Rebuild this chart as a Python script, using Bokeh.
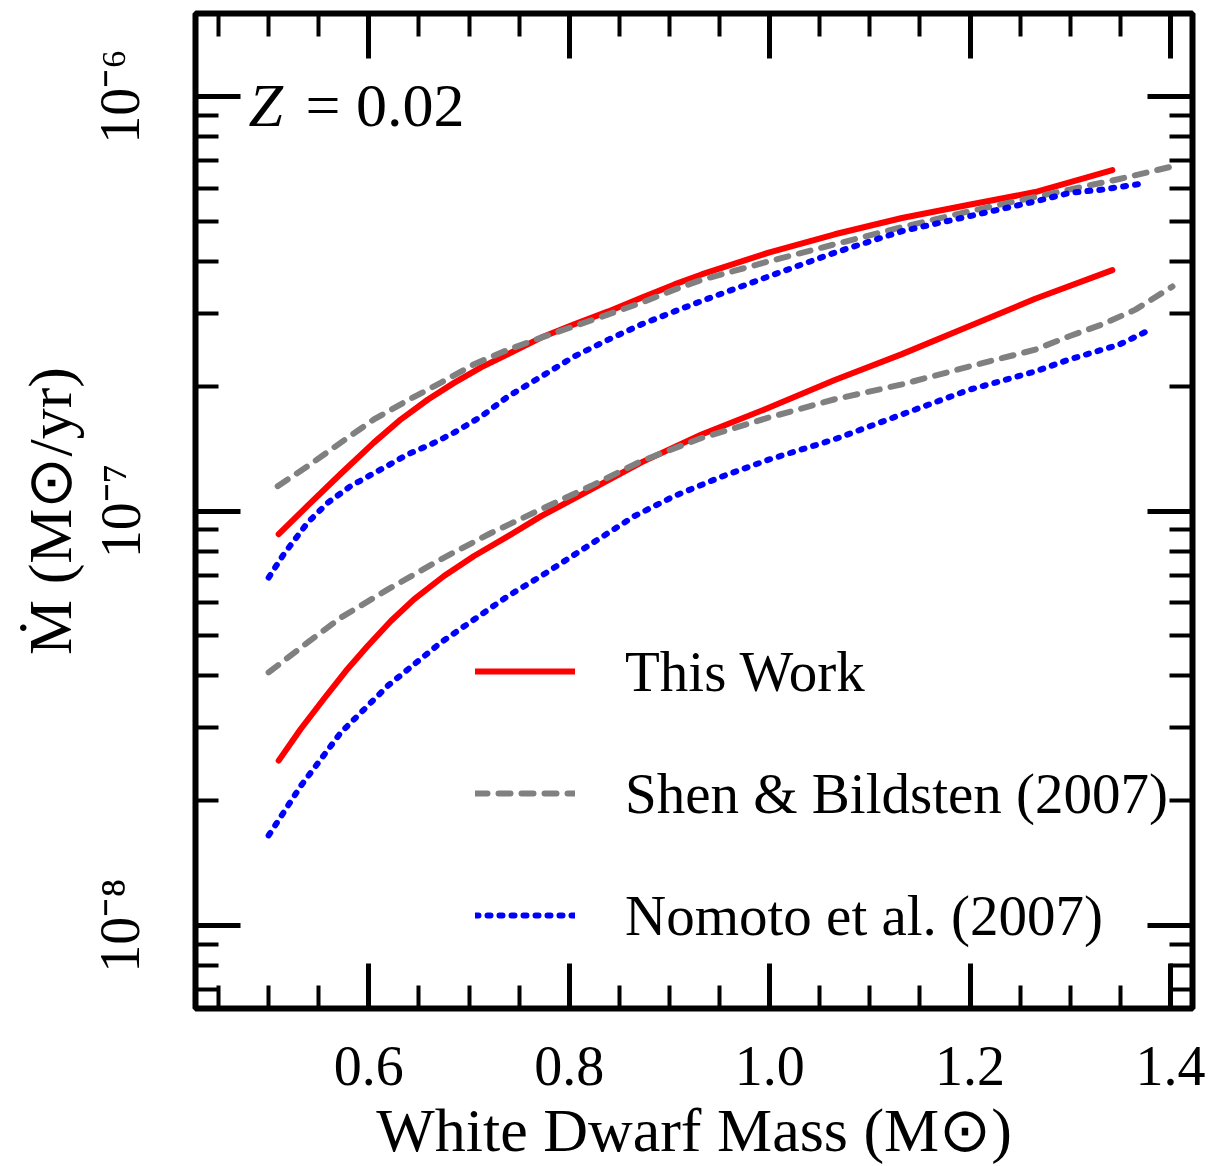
import numpy as np
from bokeh.plotting import figure
from bokeh.models import (FixedTicker, LogAxis, LinearAxis, Legend, LegendItem,
                          Label, CustomJSTickFormatter, PrintfTickFormatter, Range1d)
from bokeh.embed import file_html
from bokeh.resources import INLINE

# White dwarf mass (Msun) and accretion rate (Msun/yr) for each model.
# "This Work": upper and lower boundaries
tw_hi_m = [0.510, 0.539, 0.572, 0.605, 0.632, 0.659, 0.685, 0.712, 0.739, 0.772, 0.805,
           0.839, 0.872, 0.905, 0.932, 0.999, 1.065, 1.132, 1.199, 1.265, 1.315, 1.342]
tw_hi_mdot = [8.79e-8, 1.03e-7, 1.23e-7, 1.462e-7, 1.664e-7, 1.858e-7, 2.037e-7, 2.22e-7, 2.39e-7,
              2.62e-7, 2.82e-7, 3.03e-7, 3.27e-7, 3.52e-7, 3.72e-7, 4.20e-7, 4.65e-7, 5.09e-7,
              5.48e-7, 5.88e-7, 6.36e-7, 6.64e-7]
tw_lo_m = [0.510, 0.532, 0.555, 0.577, 0.599, 0.622, 0.645, 0.675, 0.705, 0.739, 0.772, 0.822,
           0.872, 0.932, 0.999, 1.065, 1.132, 1.199, 1.265, 1.342]
tw_lo_mdot = [2.50e-8, 2.98e-8, 3.52e-8, 4.11e-8, 4.73e-8, 5.43e-8, 6.12e-8, 6.97e-8, 7.79e-8,
              8.70e-8, 9.72e-8, 1.127e-7, 1.31e-7, 1.53e-7, 1.774e-7, 2.07e-7, 2.39e-7, 2.79e-7,
              3.25e-7, 3.81e-7]

# Shen & Bildsten (2007)
sb_hi_m = [0.509, 0.539, 0.572, 0.605, 0.639, 0.672, 0.705, 0.739, 0.772, 0.805, 0.839, 0.872,
           0.905, 0.932, 0.999, 1.065, 1.132, 1.199, 1.265, 1.299, 1.349, 1.402]
sb_hi_mdot = [1.148e-7, 1.283e-7, 1.462e-7, 1.663e-7, 1.85e-7, 2.04e-7, 2.26e-7, 2.45e-7, 2.62e-7,
              2.79e-7, 2.98e-7, 3.18e-7, 3.42e-7, 3.61e-7, 4.00e-7, 4.40e-7, 4.84e-7, 5.28e-7,
              5.72e-7, 5.96e-7, 6.32e-7, 6.78e-7]
sb_lo_m = [0.500, 0.539, 0.572, 0.619, 0.672, 0.722, 0.772, 0.822, 0.872, 0.932, 0.999, 1.065,
           1.132, 1.199, 1.265, 1.299, 1.332, 1.365, 1.402]
sb_lo_mdot = [4.08e-8, 4.82e-8, 5.53e-8, 6.47e-8, 7.65e-8, 8.85e-8, 1.01e-7, 1.15e-7, 1.32e-7,
              1.50e-7, 1.68e-7, 1.86e-7, 2.02e-7, 2.23e-7, 2.45e-7, 2.64e-7, 2.82e-7, 3.06e-7,
              3.48e-7]

# Nomoto et al. (2007)
nm_hi_m = [0.500, 0.515, 0.539, 0.559, 0.582, 0.612, 0.639, 0.665, 0.685, 0.712, 0.739, 0.772,
           0.805, 0.839, 0.872, 0.905, 0.932, 0.999, 1.065, 1.132, 1.199, 1.265, 1.299, 1.332, 1.374]
nm_hi_mdot = [6.91e-8, 7.86e-8, 9.38e-8, 1.047e-7, 1.149e-7, 1.26e-7, 1.37e-7, 1.46e-7, 1.545e-7,
              1.69e-7, 1.89e-7, 2.11e-7, 2.36e-7, 2.59e-7, 2.82e-7, 3.03e-7, 3.21e-7, 3.68e-7,
              4.20e-7, 4.73e-7, 5.14e-7, 5.58e-7, 5.85e-7, 5.96e-7, 6.17e-7]
nm_lo_m = [0.500, 0.532, 0.572, 0.619, 0.672, 0.739, 0.772, 0.865, 0.905, 0.952, 0.999, 1.065,
           1.132, 1.199, 1.265, 1.299, 1.349, 1.380]
nm_lo_mdot = [1.65e-8, 2.17e-8, 2.92e-8, 3.79e-8, 4.82e-8, 6.24e-8, 6.97e-8, 9.72e-8, 1.087e-7,
              1.21e-7, 1.33e-7, 1.49e-7, 1.71e-7, 1.96e-7, 2.17e-7, 2.32e-7, 2.52e-7, 2.74e-7]

legend_labels = ["This Work", "Shen & Bildsten (2007)", "Nomoto et al. (2007)"]

x_major = [0.6, 0.8, 1.0, 1.2, 1.4]
x_minor = [round(0.45 + 0.05 * i, 2) for i in range(20)]
y_major = [1e-8, 1e-7, 1e-6]
y_minor = [k * 10.0 ** e for e in (-9, -8, -7, -6) for k in range(2, 10)]

FONT = "Liberation Serif"
FS = "56px"
FS_TITLE = "62px"

p = figure(width=1219, height=1166, output_backend="svg", toolbar_location=None,
           y_axis_type="log",
           x_range=Range1d(0.427, 1.422), y_range=Range1d(10 ** -8.2, 10 ** -5.8),
           min_border_left=195, min_border_right=27, min_border_top=13, min_border_bottom=156)
p.grid.visible = False
p.background_fill_color = "white"
p.border_fill_color = "white"
p.outline_line_color = "black"
p.outline_line_width = 6

fmt = CustomJSTickFormatter(code="""
const e = Math.round(Math.log10(tick));
const sup = {'-': '\u207b', '0': '\u2070', '1': '\u00b9', '2': '\u00b2', '3': '\u00b3',
             '4': '\u2074', '5': '\u2075', '6': '\u2076', '7': '\u2077', '8': '\u2078', '9': '\u2079'};
return '10' + String(e).split('').map(c => sup[c]).join('');
""")


def style(ax, labels=True):
    ax.axis_line_color = None
    ax.major_tick_in = 45
    ax.major_tick_out = 0
    ax.minor_tick_in = 23
    ax.minor_tick_out = 0
    ax.major_tick_line_width = 5
    ax.minor_tick_line_width = 4
    ax.major_tick_line_color = "black"
    ax.minor_tick_line_color = "black"
    if labels:
        ax.major_label_text_font = FONT
        ax.major_label_text_font_size = FS
        ax.major_label_text_color = "black"
        ax.axis_label_text_font = FONT
        ax.axis_label_text_font_size = FS_TITLE
        ax.axis_label_text_font_style = "normal"
        ax.axis_label_text_color = "black"
    else:
        # mirrored axis: ticks only, labels kept invisible
        ax.major_label_text_font_size = "6px"
        ax.major_label_text_alpha = 0
        ax.major_label_standoff = 0


xb = p.xaxis[0]
xb.ticker = FixedTicker(ticks=x_major, minor_ticks=x_minor)
xb.formatter = PrintfTickFormatter(format="%.1f")
xb.axis_label = "White Dwarf Mass (M\u2299)"
style(xb)
xb.major_label_standoff = 38
xb.axis_label_standoff = 8

yl = p.yaxis[0]
yl.ticker = FixedTicker(ticks=y_major, minor_ticks=y_minor)
yl.formatter = fmt
yl.axis_label = "\u1e40 (M\u2299/yr)"
style(yl)
yl.major_label_orientation = "vertical"
yl.major_label_standoff = 44
yl.axis_label_standoff = 3

xt = LinearAxis(ticker=FixedTicker(ticks=x_major, minor_ticks=x_minor))
style(xt, labels=False)
p.add_layout(xt, "above")

yr = LogAxis(ticker=FixedTicker(ticks=y_major, minor_ticks=y_minor))
style(yr, labels=False)
p.add_layout(yr, "right")

LW = 6
red = dict(line_color="#ff0000", line_width=LW, line_cap="round", line_join="round")
gray = dict(line_color="#808080", line_width=LW, line_cap="round", line_join="round", line_dash="12 11")
blue = dict(line_color="#0000ff", line_width=LW, line_cap="round", line_join="round", line_dash="3 9")

r_tw = p.line(tw_hi_m, tw_hi_mdot, **red)
p.line(tw_lo_m, tw_lo_mdot, **red)
r_sb = p.line(sb_hi_m, sb_hi_mdot, **gray)
p.line(sb_lo_m, sb_lo_mdot, **gray)
r_nm = p.line(nm_hi_m, nm_hi_mdot, **blue)
p.line(nm_lo_m, nm_lo_mdot, **blue)

legend = Legend(items=[LegendItem(label=legend_labels[0], renderers=[r_tw]),
                       LegendItem(label=legend_labels[1], renderers=[r_sb]),
                       LegendItem(label=legend_labels[2], renderers=[r_nm])],
                location="bottom_left", border_line_color=None, background_fill_alpha=0,
                padding=0, margin=0, spacing=52, glyph_width=100, glyph_height=70,
                label_height=70, label_standoff=50,
                label_text_font=FONT, label_text_font_size="57px", label_text_color="black")
legend.location = (280, 58)
p.add_layout(legend)

p.add_layout(Label(x=0.48, y=9.55e-7, text="Z", text_font=FONT, text_font_size=FS_TITLE,
                   text_font_style="italic", text_baseline="alphabetic", text_color="black"))
p.add_layout(Label(x=0.48, y=9.55e-7, x_offset=57, text="= 0.02", text_font=FONT,
                   text_font_size=FS_TITLE, text_baseline="alphabetic", text_color="black"))

open("out.html", "w").write(file_html(p, INLINE))
